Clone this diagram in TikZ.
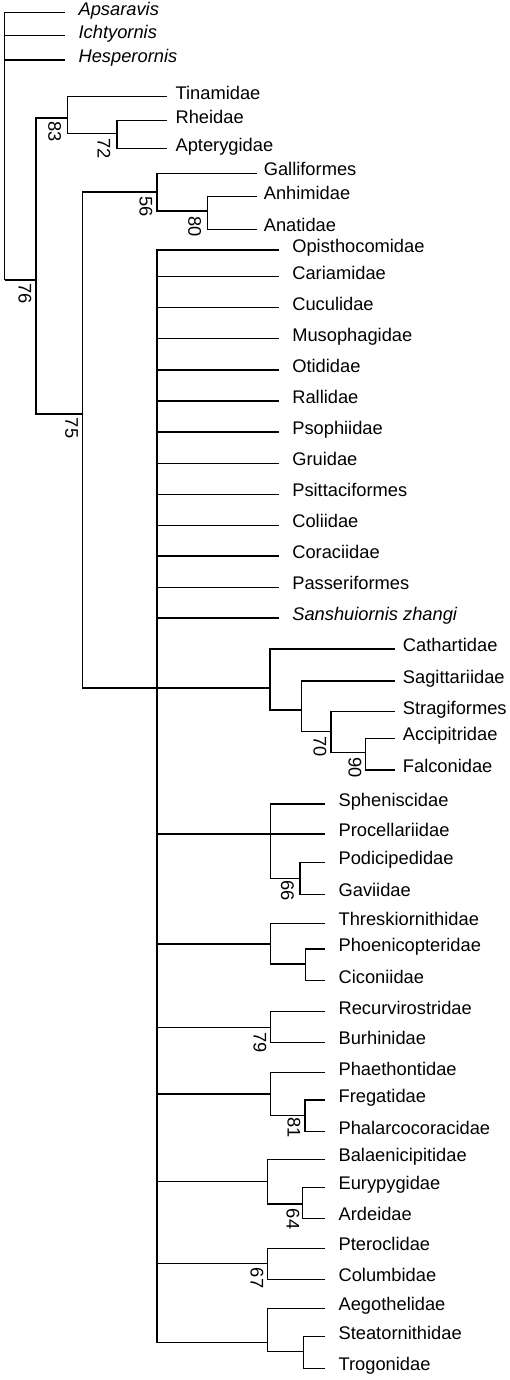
\documentclass[tikz,border=0pt]{standalone}
\usepackage{fontspec}
\setmainfont{Liberation Sans}

\begin{document}
\begin{tikzpicture}[x=1pt,y=-1pt,line width=1.2pt,
    every node/.style={font=\fontsize{18.3}{22}\selectfont},
    taxon/.style={anchor=west,inner ysep=0pt,inner xsep=#1,text height=0.52em,text depth=0pt},
    taxon/.default=13pt,
    support/.style={rotate=-90,inner sep=0pt}]
  \useasboundingbox (0,0) rectangle (510,1380);

  % stem birds
  \coordinate (root) at (4.5,280);
  \coordinate (neorn) at (36,280);
  \node[taxon] (aps) at (65,12.7) {\itshape Apsaravis};
  \node[taxon] (ich) at (65,35.5) {\itshape Ichtyornis};
  \node[taxon] (hes) at (65,60) {\itshape Hesperornis};
  \draw (root) |- (aps.west);
  \draw (root) |- (ich.west);
  \draw (root) |- (hes.west);
  \draw (root) -- (neorn);
  \node[support] (bs76) at (25,294) {76};

  % palaeognaths
  \coordinate (palaeo) at (67.7,118);
  \coordinate (ratite) at (117,133.3);
  \node[taxon=8.3pt] (tin) at (166.7,96.7) {Tinamidae};
  \node[taxon=8.3pt] (rhe) at (166.7,120.5) {Rheidae};
  \node[taxon=8.3pt] (apt) at (166.7,148.8) {Apterygidae};
  \draw (neorn) |- (palaeo);
  \draw (palaeo) |- (tin.west);
  \draw (palaeo) |- (ratite);
  \draw (ratite) |- (rhe.west);
  \draw (ratite) |- (apt.west);
  \node[support] (bs83) at (54.7,131.7) {83};
  \node[support] (bs72) at (104,148.3) {72};

  % neognaths
  \coordinate (neog) at (82.7,414);
  \coordinate (gallo) at (157,192);
  \coordinate (anser) at (207.7,211);
  \coordinate (neoav) at (157,688);
  \node[taxon=6.5pt] (gal) at (256.7,173.3) {Galliformes};
  \node[taxon=6.5pt] (anh) at (256.7,196.7) {Anhimidae};
  \node[taxon=6.5pt] (ana) at (256.7,229.3) {Anatidae};
  \draw (neorn) |- (neog);
  \draw (neog) |- (gallo);
  \draw (neog) |- (neoav);
  \draw (gallo) |- (gal.west);
  \draw (gallo) |- (anser);
  \draw (anser) |- (anh.west);
  \draw (anser) |- (ana.west);
  \node[support] (bs75) at (71.7,428) {75};
  \node[support] (bs56) at (145.8,206.7) {56};
  \node[support] (bs80) at (194.7,226.7) {80};

  % neoaves polytomy
  \foreach \name/\y in {Opisthocomidae/250,Cariamidae/276.7,Cuculidae/307.7,
      Musophagidae/338.7,Otididae/370,Rallidae/401,Psophiidae/432,Gruidae/463.3,
      Psittaciformes/494.3,Coliidae/525.3,Coraciidae/556,Passeriformes/587.3}{
    \node[taxon] (\name) at (278.7,\y) {\name};
    \draw (neoav) |- (\name.west);
  }
  \node[taxon] (san) at (278.7,618) {\itshape Sanshuiornis zhangi};
  \draw (neoav) |- (san.west);

  % raptors
  \coordinate (rap) at (270,688);
  \coordinate (rap2) at (301.7,710);
  \coordinate (rap3) at (331,731.7);
  \coordinate (rap4) at (365.7,752.7);
  \node[taxon=7.3pt] (cat) at (395,649) {Cathartidae};
  \node[taxon=7.3pt] (sag) at (395,681) {Sagittariidae};
  \node[taxon=7.3pt] (str) at (395,711.7) {Stragiformes};
  \node[taxon=7.3pt] (acc) at (395,738.3) {Accipitridae};
  \node[taxon=7.3pt] (fal) at (395,770) {Falconidae};
  \draw (neoav) -- (rap);
  \draw (rap) |- (cat.west);
  \draw (rap) |- (rap2);
  \draw (rap2) |- (sag.west);
  \draw (rap2) |- (rap3);
  \draw (rap3) |- (str.west);
  \draw (rap3) |- (rap4);
  \draw (rap4) |- (acc.west);
  \draw (rap4) |- (fal.west);
  \node[support] (bs70) at (320,746.7) {70};
  \node[support] (bs90) at (355,767.5) {90};

  % waterbirds and others
  \coordinate (sph) at (270.7,834);
  \coordinate (sph2) at (300,878.3);
  \coordinate (thr) at (270.7,944);
  \coordinate (thr2) at (305.3,964);
  \coordinate (rec) at (270.7,1027.3);
  \coordinate (pha) at (270.7,1094);
  \coordinate (pha2) at (305,1115.7);
  \coordinate (bal) at (267.3,1181.7);
  \coordinate (bal2) at (302.7,1204);
  \coordinate (pte) at (267.3,1263.3);
  \coordinate (aeg) at (267.3,1342.3);
  \coordinate (aeg2) at (303.3,1351.7);

  \node[taxon] (sphe) at (325,804) {Spheniscidae};
  \node[taxon] (pro) at (325,834) {Procellariidae};
  \node[taxon] (pod) at (325,862.3) {Podicipedidae};
  \node[taxon] (gav) at (325,894.3) {Gaviidae};
  \node[taxon] (thre) at (325,923.3) {Threskiornithidae};
  \node[taxon] (pho) at (325,949) {Phoenicopteridae};
  \node[taxon] (cic) at (325,980.7) {Ciconiidae};
  \node[taxon] (recu) at (325,1011.7) {Recurvirostridae};
  \node[taxon] (bur) at (325,1042.3) {Burhinidae};
  \node[taxon] (phae) at (325,1072.7) {Phaethontidae};
  \node[taxon] (fre) at (325,1100) {Fregatidae};
  \node[taxon] (phal) at (325,1131.7) {Phalarcocoracidae};
  \node[taxon] (bala) at (325,1159.3) {Balaenicipitidae};
  \node[taxon] (eur) at (325,1187.3) {Eurypygidae};
  \node[taxon] (ard) at (325,1218.3) {Ardeidae};
  \node[taxon] (pter) at (325,1248.3) {Pteroclidae};
  \node[taxon] (col) at (325,1279.3) {Columbidae};
  \node[taxon] (aego) at (325,1308.3) {Aegothelidae};
  \node[taxon] (ste) at (325,1336.7) {Steatornithidae};
  \node[taxon] (tro) at (325,1368.3) {Trogonidae};

  \foreach \n in {sph,thr,rec,pha,bal,pte,aeg}
    \draw (neoav) |- (\n);
  \draw (sph) |- (sphe.west);
  \draw (sph) -- (pro.west);
  \draw (sph) |- (sph2);
  \draw (sph2) |- (pod.west);
  \draw (sph2) |- (gav.west);
  \draw (thr) |- (thre.west);
  \draw (thr) |- (thr2);
  \draw (thr2) |- (pho.west);
  \draw (thr2) |- (cic.west);
  \draw (rec) |- (recu.west);
  \draw (rec) |- (bur.west);
  \draw (pha) |- (phae.west);
  \draw (pha) |- (pha2);
  \draw (pha2) |- (fre.west);
  \draw (pha2) |- (phal.west);
  \draw (bal) |- (bala.west);
  \draw (bal) |- (bal2);
  \draw (bal2) |- (eur.west);
  \draw (bal2) |- (ard.west);
  \draw (pte) |- (pter.west);
  \draw (pte) |- (col.west);
  \draw (aeg) |- (aego.west);
  \draw (aeg) |- (aeg2);
  \draw (aeg2) |- (ste.west);
  \draw (aeg2) |- (tro.west);

  \node[support] (bs66) at (287.5,890.8) {66};
  \node[support] (bs79) at (260,1042.5) {79};
  \node[support] (bs81) at (294,1127.5) {81};
  \node[support] (bs64) at (293,1219) {64};
  \node[support] (bs67) at (257,1278) {67};
\end{tikzpicture}
\end{document}
